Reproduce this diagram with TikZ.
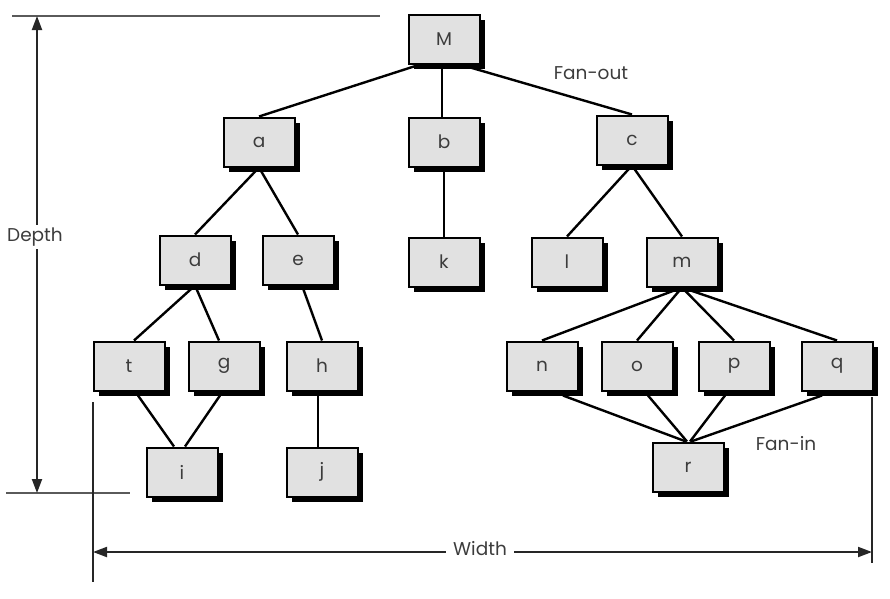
\documentclass[tikz,border=0pt]{standalone}
\usepackage{fontspec}
\setmainfont{Poppins}
\usetikzlibrary{arrows.meta,shadows,backgrounds}
\definecolor{boxgray}{RGB}{225,225,225}
\definecolor{dimgray}{RGB}{90,90,90}
\definecolor{txt}{RGB}{60,60,60}
\tikzset{
  mod/.style={draw=black, line width=2pt, fill=boxgray, minimum width=71pt, minimum height=49pt, inner sep=0pt,
    font=\fontsize{18.5}{20}\selectfont, text=txt,
    drop shadow={shadow xshift=5pt, shadow yshift=-5pt, opacity=1, fill=black}},
  edge/.style={line width=2.4pt, black},
  lbl/.style={font=\fontsize{18.5}{20}\selectfont, text=txt},
  guide/.style={line width=1.2pt, dimgray},
  dimarrow/.style={line width=2pt, black!85},
  tip/.style={-{Triangle[length=14pt,width=10pt]}}
}
\begin{document}
\begin{tikzpicture}[x=1pt,y=-1pt]
\useasboundingbox (0,0) rectangle (890,598);
\node[mod] (M) at (444,39) {M};
\node[mod] (a) at (259,142) {a};
\node[mod] (b) at (444,142) {b};
\node[mod] (c) at (632,140) {c};
\node[mod] (d) at (195,260) {d};
\node[mod] (e) at (298,260) {e};
\node[mod] (k) at (444,262) {k};
\node[mod] (l) at (567,262) {l};
\node[mod] (m) at (682,262) {m};
\node[mod] (t) at (129,366) {t};
\node[mod] (g) at (224,366) {g};
\node[mod] (h) at (322,366) {h};
\node[mod] (n) at (542,366) {n};
\node[mod] (o) at (637,366) {o};
\node[mod] (p) at (734,366) {p};
\node[mod] (q) at (837,366) {q};
\node[mod] (i) at (182,472) {i};
\node[mod] (j) at (322,472) {j};
\node[mod] (r) at (688,467) {r};
% connectors behind the boxes
\begin{pgfonlayer}{background}
\draw[edge] ([xshift=-24pt]M.south) -- (a.north);
\draw[edge] ([xshift=-2pt]M.south) -- ([xshift=-2pt]b.north);
\draw[edge] ([xshift=16pt]M.south) -- (c.north);
\draw[edge] (a.south) -- (d.north);
\draw[edge] (a.south) -- (e.north);
\draw[edge] (b.south) -- (k.north);
\draw[edge] (c.south) -- (l.north);
\draw[edge] (c.south) -- (m.north);
\draw[edge] (d.south) -- ([xshift=5pt]t.north);
\draw[edge] (d.south) -- ([xshift=-5pt]g.north);
\draw[edge] ([xshift=4pt]e.south) -- (h.north);
\draw[edge] ([xshift=-4pt]h.south) -- ([xshift=-4pt]j.north);
\draw[edge] ([xshift=9pt,yshift=-4pt]t.south) -- ([xshift=-8pt]i.north);
\draw[edge] ([xshift=-4pt,yshift=-4pt]g.south) -- ([xshift=3pt]i.north);
\draw[edge] (m.south) -- (n.north);
\draw[edge] (m.south) -- (o.north);
\draw[edge] (m.south) -- (p.north);
\draw[edge] (m.south) -- (q.north);
\draw[edge] ([xshift=21pt,yshift=-4pt]n.south) -- ([xshift=-2pt]r.north);
\draw[edge] ([xshift=11pt,yshift=-4pt]o.south) -- ([xshift=-1pt]r.north);
\draw[edge] ([xshift=-9pt,yshift=-4pt]p.south) -- ([xshift=2pt]r.north);
\draw[edge] ([xshift=-15pt,yshift=-4pt]q.south) -- ([xshift=3pt]r.north);
\end{pgfonlayer}
% labels
\node[lbl] (fanout) at (591,73) {Fan-out};
\node[lbl] (fanin) at (786,444) {Fan-in};
% depth dimension
\coordinate (dtopL) at (12,16);
\coordinate (dtopR) at (380,16);
\coordinate (dbotL) at (6,493);
\coordinate (dbotR) at (130,493);
\coordinate (dup) at (37,16);
\coordinate (ddown) at (37,493);
\draw[guide] (dtopL) -- (dtopR);
\draw[guide] (dbotL) -- (dbotR);
\node[lbl, fill=white, inner sep=3pt] (depth) at (35,237) {Depth};
\draw[dimarrow, tip] (depth.north -| dup) -- (dup);
\draw[dimarrow, tip] (depth.south -| ddown) -- (ddown);
% width dimension
\coordinate (wl1) at (93,402);
\coordinate (wl2) at (93,582);
\coordinate (wr1) at (872,397);
\coordinate (wr2) at (872,563);
\coordinate (wleft) at (93,552);
\coordinate (wright) at (872,552);
\draw[dimarrow] (wl1) -- (wl2);
\draw[dimarrow] (wr1) -- (wr2);
\node[lbl, fill=white, inner sep=7pt] (width) at (480,549) {Width};
\draw[dimarrow, tip] (width.west |- wleft) -- (wleft);
\draw[dimarrow, tip] (width.east |- wright) -- (wright);
\end{tikzpicture}
\end{document}
